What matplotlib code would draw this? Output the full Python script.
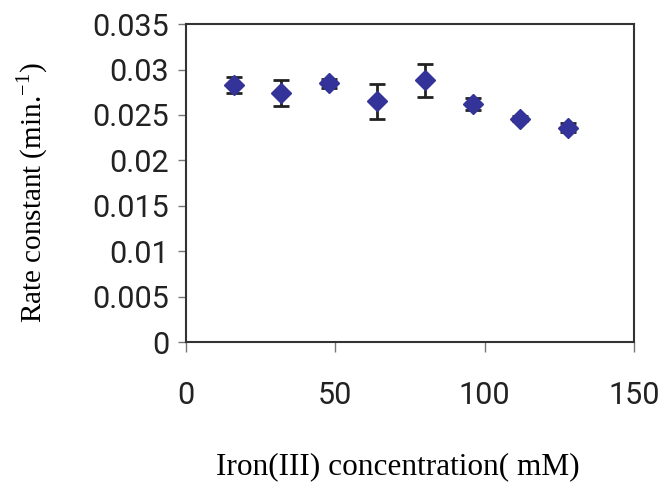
import matplotlib
matplotlib.use("Agg")
import matplotlib.pyplot as plt
from matplotlib.ticker import FuncFormatter

plt.rcParams['mathtext.fontset'] = 'custom'
plt.rcParams['mathtext.rm'] = 'Liberation Serif'

# data
conc = [16, 32, 48, 64, 80, 96, 112, 128]
rate = [0.0283, 0.0274, 0.0285, 0.0265, 0.0288, 0.0262, 0.0246, 0.0236]
err = [0.0009, 0.0014, 0.0005, 0.0019, 0.0018, 0.0007, 0.0003, 0.0005]

fig = plt.figure(figsize=(6.66, 4.82), dpi=100)
ax = fig.add_axes([0.279, 0.290, 0.673, 0.660])

ax.errorbar(conc, rate, yerr=err, fmt='D', color='#333399', markersize=10,
            ecolor='#222222', elinewidth=2, capsize=6, capthick=2, zorder=3)

ax.set_xlim(0, 150)
ax.set_ylim(0, 0.035)
ax.set_xticks([0, 50, 100, 150])
ax.set_yticks([0, 0.005, 0.01, 0.015, 0.02, 0.025, 0.03, 0.035])
ax.yaxis.set_major_formatter(FuncFormatter(lambda v, p: '%g' % round(v, 4)))

for s in ax.spines.values():
    s.set_color('#333333')
    s.set_linewidth(1.5)

ax.tick_params(axis='y', direction='out', length=6, width=1, color='#777777',
               labelsize=22, labelcolor='#222222', pad=6)
ax.tick_params(axis='x', direction='out', length=7, width=1, color='#777777',
               labelsize=22, labelcolor='#222222', pad=21)
for lab in ax.get_xticklabels() + ax.get_yticklabels():
    lab.set_family('Roboto')

ax.set_ylabel(r'Rate constant (min.$^{\mathrm{-1}}$)', family='Liberation Serif',
              fontsize=21)
ax.yaxis.set_label_coords(-0.303, 0.47)
ax.set_xlabel('Iron(III) concentration( mM)', family='Liberation Serif',
              fontsize=22.5)
ax.xaxis.set_label_coords(0.472, -0.345)

fig.savefig('out.png', dpi=100)
